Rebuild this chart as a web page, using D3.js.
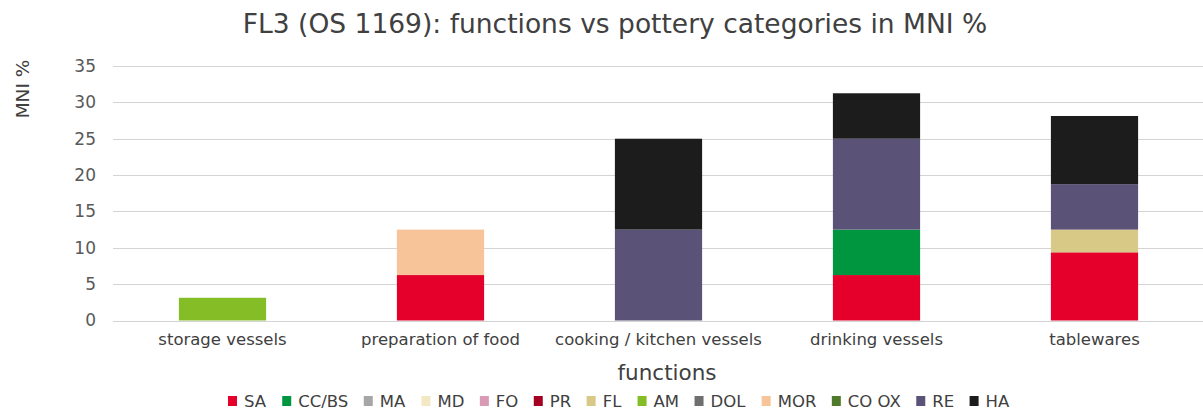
<!DOCTYPE html>
<html>
<head>
<meta charset="utf-8">
<script src="https://cdn.jsdelivr.net/npm/d3@7"></script>
<style>
  html, body { margin: 0; padding: 0; background: #fff; }
  svg { display: block; font-family: "DejaVu Sans", Verdana, sans-serif; }
</style>
</head>
<body>
<svg id="chart" width="1203" height="414"></svg>
<script>
// Functional groups on the x axis
const categories = ["storage vessels", "preparation of food", "cooking / kitchen vessels", "drinking vessels", "tablewares"];

// Pottery categories (stack order, bottom to top) and their colours
const seriesNames = ["SA", "CC/BS", "MA", "MD", "FO", "PR", "FL", "AM", "DOL", "MOR", "CO OX", "RE", "HA"];
const seriesColors = ["#e4002b", "#00963f", "#a6a6a6", "#f2e9c4", "#d99ab5", "#a50021", "#d9c986", "#84bd26", "#6f6f6f", "#f7c49a", "#4f7a2b", "#5b5277", "#1c1c1c"];

// MNI % per pottery category, one value per function group
const SA    = [0,     6.25, 0,    6.25,  9.375];
const CC_BS = [0,     0,    0,    6.25,  0];
const MA    = [0,     0,    0,    0,     0];
const MD    = [0,     0,    0,    0,     0];
const FO    = [0,     0,    0,    0,     0];
const PR    = [0,     0,    0,    0,     0];
const FL    = [0,     0,    0,    0,     3.125];
const AM    = [3.125, 0,    0,    0,     0];
const DOL   = [0,     0,    0,    0,     0];
const MOR   = [0,     6.25, 0,    0,     0];
const CO_OX = [0,     0,    0,    0,     0];
const RE    = [0,     0,    12.5, 12.5,  6.25];
const HA    = [0,     0,    12.5, 6.25,  9.375];

const yTicks = [0, 5, 10, 15, 20, 25, 30, 35];

const seriesValues = [SA, CC_BS, MA, MD, FO, PR, FL, AM, DOL, MOR, CO_OX, RE, HA];

const rows = categories.map((c, i) => {
  const r = { category: c };
  seriesNames.forEach((s, k) => { r[s] = seriesValues[k][i]; });
  return r;
});

const svg = d3.select("#chart");
const W = 1203;

const x = d3.scaleBand().domain(categories).range([113.5, 1203.5]).padding(0);
const y = d3.scaleLinear().domain([0, 35]).range([320.5, 66]);
const color = d3.scaleOrdinal().domain(seriesNames).range(seriesColors);

// Title
svg.append("text")
  .attr("x", 615).attr("y", 33)
  .attr("text-anchor", "middle")
  .attr("font-size", 26.5)
  .attr("fill", "#404040")
  .text("FL3 (OS 1169): functions vs pottery categories in MNI %");

// Gridlines
svg.append("g")
  .selectAll("line")
  .data(yTicks)
  .join("line")
  .attr("x1", 113).attr("x2", W)
  .attr("y1", d => Math.round(y(d)) + 0.5).attr("y2", d => Math.round(y(d)) + 0.5)
  .attr("stroke", "#d4d4d4").attr("stroke-width", 1);

// Y axis labels
const yAxis = d3.axisLeft(y).tickValues(yTicks).tickSize(0).tickPadding(0);
const gy = svg.append("g").attr("transform", "translate(96,0)").call(yAxis);
gy.select(".domain").remove();
gy.selectAll("text")
  .attr("font-size", 17)
  .attr("font-family", "DejaVu Sans, Verdana, sans-serif")
  .attr("fill", "#595959");

// Y axis title
svg.append("text")
  .attr("transform", "translate(29,89) rotate(-90)")
  .attr("text-anchor", "middle")
  .attr("font-size", 18.5)
  .attr("fill", "#404040")
  .text("MNI %");

// Stacked bars
const stack = d3.stack().keys(seriesNames);
const layers = stack(rows);
const barW = x.bandwidth() * 0.4;
const barOff = (x.bandwidth() - barW) / 2;

svg.append("g")
  .selectAll("g")
  .data(layers)
  .join("g")
  .attr("fill", d => color(d.key))
  .selectAll("rect")
  .data(d => d.filter(p => p[1] - p[0] > 0))
  .join("rect")
  .attr("x", p => x(p.data.category) + barOff)
  .attr("width", barW)
  .attr("y", p => y(p[1]))
  .attr("height", p => y(p[0]) - y(p[1]));

// X axis labels
const xAxis = d3.axisBottom(x).tickSize(0).tickPadding(0);
const gx = svg.append("g").attr("transform", "translate(0,333)").call(xAxis);
gx.select(".domain").remove();
gx.selectAll("text")
  .attr("font-size", 16.5)
  .attr("font-family", "DejaVu Sans, Verdana, sans-serif")
  .attr("fill", "#404040");

// X axis title
svg.append("text")
  .attr("x", 667).attr("y", 380)
  .attr("text-anchor", "middle")
  .attr("font-size", 21.5)
  .attr("fill", "#404040")
  .text("functions");

// Legend: markers and labels laid out in a single centred row
const legend = svg.append("g").attr("font-size", 16.5).attr("fill", "#404040");
const items = legend.selectAll("g").data(seriesNames).join("g");
items.append("rect").attr("width", 9).attr("height", 10).attr("y", -11).attr("fill", d => color(d));
items.append("text").attr("x", 16).attr("y", 0).text(d => d);
const widths = [];
items.each(function () { widths.push(this.getBBox().width); });
const legendLeft = 228, legendRight = 1010;
const gap = (legendRight - legendLeft - d3.sum(widths)) / (widths.length - 1);
let cx = 0;
items.attr("transform", (d, i) => {
  const t = `translate(${cx},0)`;
  cx += widths[i] + gap;
  return t;
});
legend.attr("transform", `translate(${legendLeft},407)`);
</script>
</body>
</html>
